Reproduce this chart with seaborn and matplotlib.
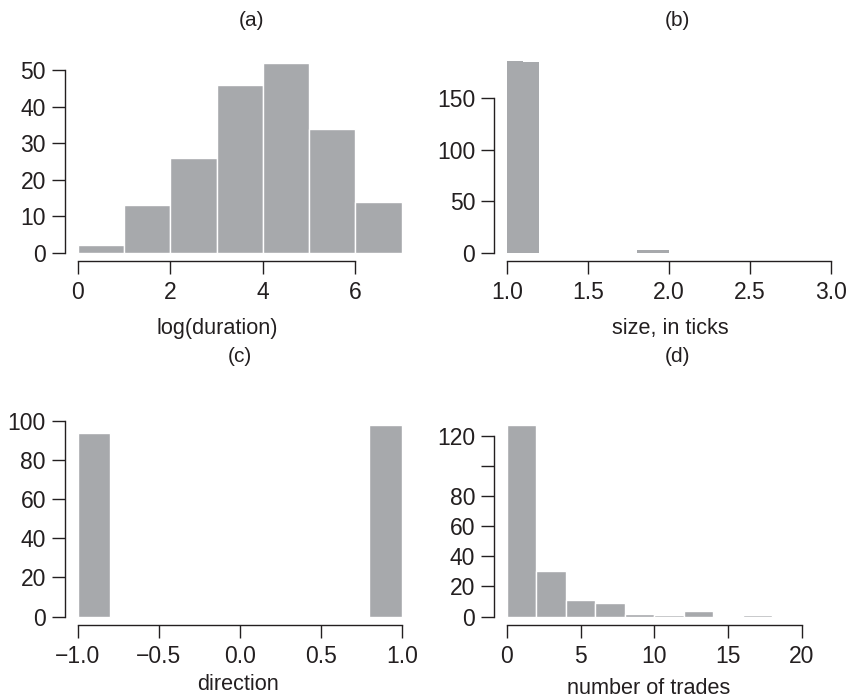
import numpy as np
import matplotlib
matplotlib.use("Agg")
import matplotlib.pyplot as plt
import seaborn as sns

# (a) log(duration)
dur_edges = [0, 1, 2, 3, 4, 5, 6, 7]
dur_counts = [2, 13, 26, 46, 52, 34, 14]

# (b) size, in ticks
size_edges = [1.0, 1.1, 1.2, 1.8, 2.0]
size_counts = [186, 185, 0, 3]

# (c) direction
dir_edges = [-1.0, -0.8, -0.6, -0.4, -0.2, 0.0, 0.2, 0.4, 0.6, 0.8, 1.0]
dir_counts = [94, 0, 0, 0, 0, 0, 0, 0, 0, 98]

# (d) number of trades
trade_edges = [0, 2, 4, 6, 8, 10, 12, 14, 16, 18, 20]
trade_counts = [127, 30, 11, 9, 2, 1, 4, 0, 1, 0]

BAR = "#a7a9ac"
INK = "#231f20"
W, H = 848, 700

sns.set_style("ticks")
plt.rcParams["font.family"] = ["Liberation Sans", "DejaVu Sans"]

fig = plt.figure(figsize=(W / 100, H / 100), dpi=100)


def add_panel(left, top, width=350, height=208):
    return fig.add_axes([left / W, 1 - (top + height) / H, width / W, height / H])


def draw_hist(ax, edges, counts, lw=1.0):
    centers = [(a + b) / 2 for a, b in zip(edges[:-1], edges[1:])]
    sns.histplot(x=centers, weights=counts, bins=edges, ax=ax, color=BAR,
                 edgecolor="white", linewidth=lw, alpha=1)
    ax.set_xlabel("")
    ax.set_ylabel("")


def style(ax, xlim, ylim, xticks, yticks, ylabels=None):
    ax.set_xlim(*xlim)
    ax.set_ylim(*ylim)
    ax.set_xticks(xticks)
    ax.set_yticks(yticks)
    if ylabels is not None:
        ax.set_yticklabels(ylabels)
    sns.despine(ax=ax)
    ax.spines["left"].set_bounds(yticks[0], yticks[-1])
    ax.spines["bottom"].set_bounds(xticks[0], xticks[-1])
    for s in ("left", "bottom"):
        ax.spines[s].set_color(INK)
        ax.spines[s].set_linewidth(1.0)
    ax.tick_params(axis="both", length=9.5, width=1.0, color=INK,
                   labelcolor=INK, labelsize=16.5)
    ax.tick_params(axis="y", pad=4)
    ax.tick_params(axis="x", pad=5)


def text_px(x, y, s, size=15.6):
    fig.text(x / W, 1 - y / H, s, ha="center", va="center", fontsize=size, color=INK)


ax_a = add_panel(64.7, 53)
draw_hist(ax_a, dur_edges, dur_counts)
style(ax_a, (-0.28, 7.28), (-2.3, 54.8), [0, 2, 4, 6], [0, 10, 20, 30, 40, 50])

ax_b = add_panel(494, 53)
draw_hist(ax_b, size_edges, size_counts, lw=0)
style(ax_b, (0.92, 3.08), (-7.8, 194), [1.0, 1.5, 2.0, 2.5, 3.0], [0, 50, 100, 150])
ax_b.set_xticklabels(["1.0", "1.5", "2.0", "2.5", "3.0"])

ax_c = add_panel(64.7, 417)
draw_hist(ax_c, dir_edges, dir_counts)
style(ax_c, (-1.08, 1.08), (-4.3, 102), [-1.0, -0.5, 0.0, 0.5, 1.0], [0, 20, 40, 60, 80, 100])
ax_c.set_xticklabels(["\u22121.0", "\u22120.5", "0.0", "0.5", "1.0"])

ax_d = add_panel(494, 417)
draw_hist(ax_d, trade_edges, trade_counts)
style(ax_d, (-0.88, 22.88), (-5.6, 132.4), [0, 5, 10, 15, 20],
      [0, 20, 40, 60, 80, 100, 120], ["0", "20", "40", "60", "80", "", "120"])

# panel titles
text_px(252, 21, "(a)", 15)
text_px(677, 21, "(b)", 15)
text_px(240, 357, "(c)", 15)
text_px(677, 357, "(d)", 15)

# axis labels
text_px(217, 328, "log(duration)")
text_px(670, 328, "size, in ticks")
text_px(238, 685, "direction")
text_px(649, 688, "number of trades")

fig.savefig("out.png", dpi=100)
